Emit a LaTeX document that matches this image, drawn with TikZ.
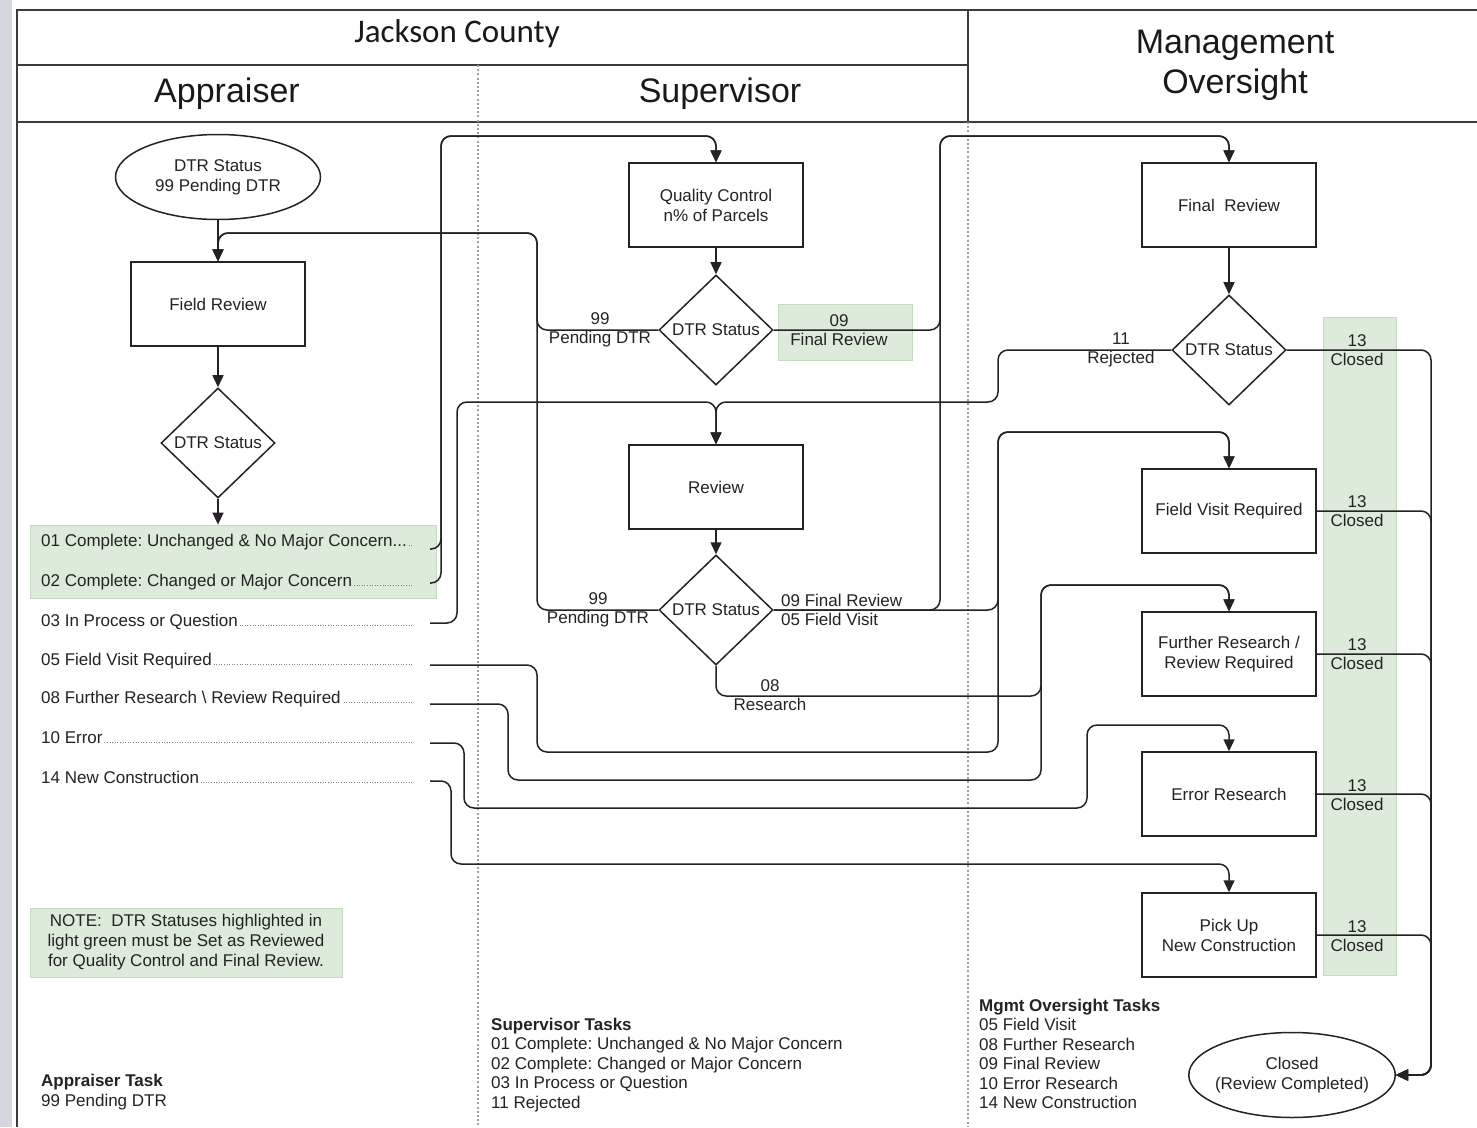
\documentclass[tikz,border=0pt]{standalone}
\usepackage{fontspec}
\setmainfont{Liberation Sans}
\newfontfamily\calibri{Carlito}
\usetikzlibrary{shapes.geometric,arrows.meta,calc}
\definecolor{ink}{RGB}{35,35,35}
\definecolor{lgreen}{RGB}{221,236,218}
\definecolor{lgreenb}{RGB}{196,218,190}
\definecolor{framec}{RGB}{60,60,60}
\definecolor{side}{RGB}{212,216,222}
\newcommand{\dleader}{\leaders\hbox to 2.6pt{\hss\textcolor{gray}{\rule{0.9pt}{0.9pt}}\hss}\hfill}
\frenchspacing
\begin{document}
\begin{tikzpicture}[x=1pt,y=-1pt, font=\fontsize{17}{20}\selectfont, text=ink,
  box/.style={draw=ink, line width=1.5pt, minimum width=174pt, minimum height=84pt, align=center, inner sep=2pt},
  dec/.style={draw=ink, line width=1.5pt, shape=diamond, minimum width=114pt, minimum height=110pt, inner sep=0pt},
  term/.style={draw=ink, line width=1.5pt, shape=ellipse, minimum width=205pt, minimum height=85pt, align=center, inner sep=0pt},
  conn/.style={draw=ink, line width=1.5pt, rounded corners=10pt, -{Triangle[length=12pt,width=11pt,fill=ink]}},
  hl/.style={fill=lgreen, draw=lgreenb, line width=0.8pt, inner sep=0pt},
  lbl/.style={align=center, inner sep=0pt, font=\fontsize{17}{19.5}\selectfont},
  item/.style={anchor=base west, inner sep=0pt},
  lane/.style={draw=gray!75, line width=1.5pt, dash pattern=on 2pt off 2.2pt},
  framel/.style={draw=framec, line width=1.8pt},
  hdr/.style={font=\fontsize{34}{40}\selectfont, align=center, text=black!90, inner sep=0pt}
]
\useasboundingbox (0,0) rectangle (1477,1127);
\fill[white] (0,0) rectangle (1477,1127);
\fill[side] (0,0) rectangle (12,1127);

% frame
\draw[framel] (17,1127) -- (17,10) -- (1477,10);
\draw[framel] (17,65) -- (968,65);
\draw[framel] (17,122) -- (1477,122);
\draw[framel] (968,10) -- (968,122);
\draw[lane] (478,65) -- (478,1127);
\draw[lane] (968,122) -- (968,1127);

% headers
\node[hdr, font=\calibri\fontsize{33}{40}\selectfont] (hJC) at (457,34) {Jackson County};
\node[hdr] (hApp) at (227,94) {Appraiser};
\node[hdr] (hSup) at (720,94) {Supervisor};
\node[hdr] (hMgmt) at (1235,65) {Management\\Oversight};

% highlight boxes
\node[hl, minimum width=406pt, minimum height=73pt] (glist) at (233,561.5) {};
\node[hl, minimum width=134pt, minimum height=56pt] (g09) at (845,332) {};
\node[hl, minimum width=73pt, minimum height=658pt] (gstrip) at (1359.5,646) {};
\node[hl, minimum width=312pt, minimum height=69pt, align=center, font=\fontsize{17}{20}\selectfont] (note) at (186,942.5)
  {NOTE:\ \ DTR Statuses highlighted in\\light green must be Set as Reviewed\\for Quality Control and Final Review.};

% appraiser lane
\node[term] (start) at (218,177) {DTR Status\\99 Pending DTR};
\node[box] (fr) at (218,304) {Field Review};
\node[dec] (dA) at (218,443) {DTR Status};

\node[item] (l01) at (41,546) {\makebox[372pt][l]{01 Complete: Unchanged \& No Major Concern...\dleader}};
\node[item] (l02) at (41,586) {\makebox[372pt][l]{02 Complete: Changed or Major Concern\dleader}};
\node[item] (l03) at (41,626) {\makebox[372pt][l]{03 In Process or Question\dleader}};
\node[item] (l05) at (41,665) {\makebox[372pt][l]{05 Field Visit Required\dleader}};
\node[item] (l08) at (41,703) {\makebox[372pt][l]{08 Further Research \textbackslash{} Review Required\dleader}};
\node[item] (l10) at (41,743) {\makebox[372pt][l]{10 Error\dleader}};
\node[item] (l14) at (41,783) {\makebox[372pt][l]{14 New Construction\dleader}};

% supervisor lane
\node[box] (qc) at (716,205) {Quality Control\\n\% of Parcels};
\node[dec] (dB) at (716,330) {DTR Status};
\node[box] (rev) at (716,487) {Review};
\node[dec] (dC) at (716,610) {DTR Status};

% management lane
\node[box] (frv) at (1229,205) {Final\ \ Review};
\node[dec] (dD) at (1229,350) {DTR Status};
\node[box] (fvr) at (1229,511) {Field Visit Required};
\node[box] (furr) at (1229,654) {Further Research /\\Review Required};
\node[box] (err) at (1229,794) {Error Research};
\node[box] (pu) at (1229,935) {Pick Up\\New Construction};
\node[term, inner xsep=-4pt, minimum width=203pt] (closed) at (1292,1075) {Closed\\(Review Completed)};

% routing points
\coordinate (s01) at (430,549);
\coordinate (s02) at (430,583);
\coordinate (s03) at (430,623);
\coordinate (s05) at (430,665);
\coordinate (s08) at (430,704);
\coordinate (s10) at (430,743);
\coordinate (s14) at (430,781);
\coordinate (b1) at (441,136);
\coordinate (c99) at (537,233);
\coordinate (c09) at (940,136);
\coordinate (c05) at (998,432);
\coordinate (c11) at (998,402);
\coordinate (c03) at (457,402);
\coordinate (c08) at (1041,585);
\coordinate (cb) at (1431,1075);

% straight flow
\draw[conn] (start) -- (fr);
\draw[conn] (fr) -- (dA);
\draw[conn] (dA.south) -- (dA.south |- glist.north);
\draw[conn] (qc) -- (dB);
\draw[conn] (rev) -- (dC);
\draw[conn] (frv) -- (dD);

% appraiser outputs
\draw[conn] (s01) -| (b1) -| (qc.north);
\draw[conn] (s02) -| (b1) -| (qc.north);
\draw[conn] (s03) -| (c03) -| (rev.north);
\draw[conn] (s05) -| (537,752) -| (c05) -| (fvr.north);
\draw[conn] (s08) -| (508,780) -| (c08) -| (furr.north);
\draw[conn] (s10) -| (464,808) -| (1087,725) -| (err.north);
\draw[conn] (s14) -| (451,864) -| (pu.north);

% supervisor outputs
\draw[conn] (dB.west) -| (c99) -| (fr.north);
\draw[conn] (dC.west) -| (c99) -| (fr.north);
\draw[conn] (dB.east) -| (c09) -| (frv.north);
\draw[conn] (dC.east) -| (c09) -| (frv.north);
\draw[conn] (dC.east) -| (c05) -| (fvr.north);
\draw[conn] (dC.south) |- (1041,696) -- (c08) -| (furr.north);

% management outputs
\draw[conn] (dD.west) -| (c11) -| (rev.north);
\draw[conn] (dD.east) -| (cb) -- (closed.east);
\draw[conn] (fvr.east) -| (cb) -- (closed.east);
\draw[conn] (furr.east) -| (cb) -- (closed.east);
\draw[conn] (err.east) -| (cb) -- (closed.east);
\draw[conn] (pu.east) -| (cb) -- (closed.east);

% connector labels
\node[lbl] (t99a) at (600,330) {99\\Pending DTR};
\node[lbl] (t09a) at (839,330) {09\\Final Review};
\node[lbl] (t99b) at (598,610) {99\\Pending DTR};
\node[lbl, align=left, anchor=west] (t0905) at (781,610) {09 Final Review\\05 Field Visit};
\node[lbl] (t08) at (770,695) {08\\Research};
\node[lbl] (t11) at (1121,350) {11\\Rejected};
\node[lbl] (tc1) at (1357,350) {13\\Closed};
\node[lbl] (tc2) at (1357,511) {13\\Closed};
\node[lbl] (tc3) at (1357,654) {13\\Closed};
\node[lbl] (tc4) at (1357,795) {13\\Closed};
\node[lbl] (tc5) at (1357,936) {13\\Closed};

% task lists
\node[anchor=west, align=left, inner sep=0pt, font=\fontsize{17}{19.5}\selectfont] (tApp) at (41,1092)
  {\textbf{Appraiser Task}\\99 Pending DTR};
\node[anchor=west, align=left, inner sep=0pt, font=\fontsize{17}{19.5}\selectfont] (tSup) at (491,1065)
  {\textbf{Supervisor Tasks}\\01 Complete: Unchanged \& No Major Concern\\02 Complete: Changed or Major Concern\\03 In Process or Question\\11 Rejected};
\node[anchor=west, align=left, inner sep=0pt, font=\fontsize{17}{19.5}\selectfont] (tMg) at (979,1054)
  {\textbf{Mgmt Oversight Tasks}\\05 Field Visit\\08 Further Research\\09 Final Review\\10 Error Research\\14 New Construction};
\end{tikzpicture}
\end{document}
